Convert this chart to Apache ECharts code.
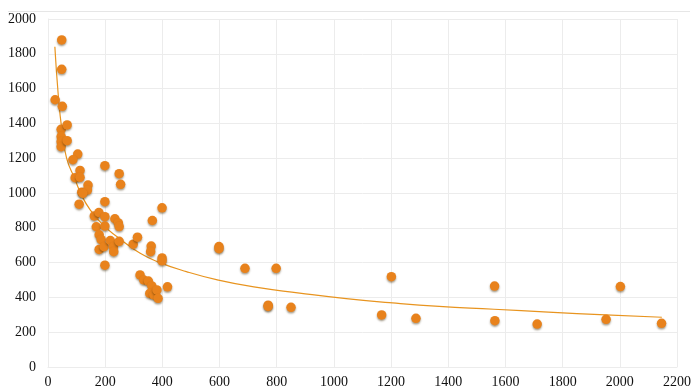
<!DOCTYPE html>
<html>
<head>
<meta charset="utf-8">
<script src="https://cdn.jsdelivr.net/npm/echarts@6/dist/echarts.min.js"></script>
<style>
html,body{margin:0;padding:0;background:#fff;}
#chart{width:694px;height:389px;}
</style>
</head>
<body>
<div id="chart"></div>
<script>
// Scatter observations [x, y]
const pointsX = [25,48,48,50,46,67,46,46,46,67,104,87,112,95,112,199,249,254,118,140,138,122,109,199,399,365,162,178,199,169,199,234,246,249,179,186,179,196,218,229,230,249,298,313,361,359,399,399,199,598,598,322,335,351,363,356,370,381,385,418,689,798,770,770,850,1167,1201,1287,1562,1563,1711,1952,2002,2146];
const pointsY = [1536,1880,1711,1498,1366,1391,1324,1295,1266,1301,1224,1191,1130,1088,1090,1157,1111,1050,1005,1046,1017,998,936,950,915,842,868,888,864,806,810,852,828,807,760,732,676,691,727,691,663,722,706,746,695,663,627,610,585,692,680,529,500,494,466,423,414,443,395,461,567,567,355,348,343,299,519,280,465,266,247,274,462,251];
// Trend line values
const trendX = [24,36,48,65,94,118,147,193,245,321,391,484,589,720,880,1043,1205,1368,1560,1750,1950,2147];
const trendY = [1841,1560,1370,1200,1080,985,905,815,745,655,600,548,502,460,425,393,368,348,332,315,299,286];
// Axis ticks
const xTicks = [0,200,400,600,800,1000,1200,1400,1600,1800,2000,2200];
const yTicks = [0,200,400,600,800,1000,1200,1400,1600,1800,2000];

const scatterData = pointsX.map((x,i)=>[x, pointsY[i]]);
const trendData = trendX.map((x,i)=>[x, trendY[i]]);

const font = '"Liberation Serif", "DejaVu Serif", serif';
const chart = echarts.init(document.getElementById('chart'));
chart.setOption({
  animation: false,
  backgroundColor: '#ffffff',
  graphic: [{
    type: 'line',
    shape: {x1: 8, y1: 11.5, x2: 690, y2: 11.5},
    style: {stroke: '#e6e6e6', lineWidth: 1}
  }],
  grid: {left: 48, right: 15, top: 19, bottom: 22, containLabel: false},
  xAxis: {
    type: 'value',
    min: xTicks[0], max: xTicks[xTicks.length-1], interval: 200,
    axisLine: {show: true, lineStyle: {color: '#ececec'}},
    axisTick: {show: false},
    splitLine: {show: true, lineStyle: {color: '#ececec', width: 1}},
    axisLabel: {fontFamily: font, fontSize: 14, color: '#111', margin: 8,
      formatter: v => String(v)}
  },
  yAxis: {
    type: 'value',
    min: yTicks[0], max: yTicks[yTicks.length-1], interval: 200,
    axisLine: {show: true, lineStyle: {color: '#ececec'}},
    axisTick: {show: false},
    splitLine: {show: true, lineStyle: {color: '#ececec', width: 1}},
    axisLabel: {fontFamily: font, fontSize: 14, color: '#111', margin: 12,
      formatter: v => String(v)}
  },
  series: [
    {
      type: 'line',
      data: trendData,
      smooth: true,
      showSymbol: false,
      symbol: 'none',
      lineStyle: {color: '#E8941F', width: 1.2},
      z: 3
    },
    {
      type: 'scatter',
      data: scatterData,
      symbolSize: 9.5,
      itemStyle: {
        color: '#E8821C',
        opacity: 1,
        shadowBlur: 2,
        shadowOffsetX: 0,
        shadowOffsetY: 1.5,
        shadowColor: 'rgba(60,40,0,0.45)'
      },
      z: 4
    }
  ]
});
</script>
</body>
</html>
